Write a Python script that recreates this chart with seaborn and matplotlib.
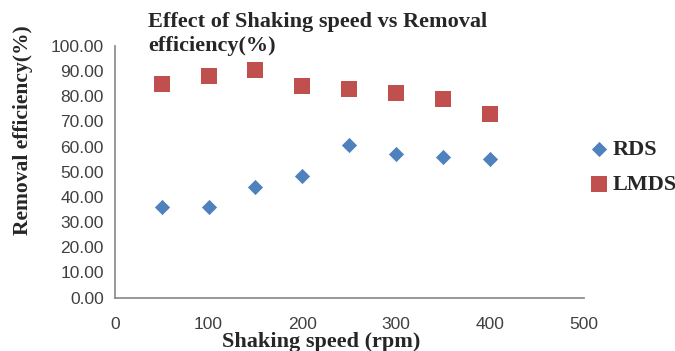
import matplotlib
matplotlib.use("Agg")
import matplotlib.pyplot as plt
import seaborn as sns
import pandas as pd

speed = [50, 100, 150, 200, 250, 300, 350, 400]
rds = [36.0, 36.0, 44.0, 48.5, 60.5, 57.0, 56.0, 55.0]
lmds = [85.0, 88.0, 90.3, 84.2, 82.8, 81.3, 78.8, 73.0]
series_names = ["RDS", "LMDS"]
yticks = [0, 10, 20, 30, 40, 50, 60, 70, 80, 90, 100]
xticks = [0, 100, 200, 300, 400, 500]

df = pd.DataFrame({
    "speed": speed * 2,
    "eff": rds + lmds,
    "series": [series_names[0]] * len(speed) + [series_names[1]] * len(speed),
})

sns.set_style("white")
plt.rcParams['font.family'] = ['Liberation Sans', 'DejaVu Sans']

fig = plt.figure(figsize=(6.75, 3.51), dpi=100)
ax = fig.add_axes([0.170, 0.152, 0.695, 0.717])

palette = {"RDS": "#4F81BD", "LMDS": "#C0504D"}
sns.scatterplot(data=df[df.series == "RDS"], x="speed", y="eff", color=palette["RDS"],
                marker="D", s=60, linewidth=0, ax=ax, label="RDS")
sns.scatterplot(data=df[df.series == "LMDS"], x="speed", y="eff", color=palette["LMDS"],
                marker="s", s=125, linewidth=0, ax=ax, label="LMDS")

ax.set_xlim(0, 500)
ax.set_ylim(0, 100)
ax.set_xticks(xticks)
ax.set_yticks(yticks)
ax.set_yticklabels([f"{v:.2f}" for v in yticks])
for s in ["top", "right"]:
    ax.spines[s].set_visible(False)
for s in ["left", "bottom"]:
    ax.spines[s].set_color("#868686")
    ax.spines[s].set_linewidth(1.2)
ax.tick_params(axis="both", direction="out", length=5, width=1.2, color="#868686",
               labelsize=12.5, labelcolor="#404040", pad=3)
ax.tick_params(axis="x", pad=9)

serif = ['Liberation Serif', 'DejaVu Serif']
ax.set_xlabel("Shaking speed (rpm)", fontsize=16, fontweight="bold", family=serif)
ax.xaxis.set_label_coords(0.439, -0.135)
ax.xaxis.label.set_va("top")
ax.set_ylabel("Removal efficiency(%)", fontsize=15.5, fontweight="bold", family=serif)
ax.yaxis.set_label_coords(-0.196, 0.665)
ax.yaxis.label.set_va("center")
fig.text(148 / 675, 1 - 12 / 351, "Effect of Shaking speed vs Removal\nefficiency(%)",
         ha="left", va="top", fontsize=16, fontweight="bold", family=serif, linespacing=1.3)

leg = ax.legend(loc="center left", bbox_to_anchor=(590 / 675, 1 - 167.5 / 351),
                bbox_transform=fig.transFigure,
                frameon=False, prop={"family": serif, "weight": "bold", "size": 16},
                handlelength=0.8, handletextpad=0.2, labelspacing=0.65,
                borderpad=0, borderaxespad=0)

fig.savefig("out.png", dpi=100)
